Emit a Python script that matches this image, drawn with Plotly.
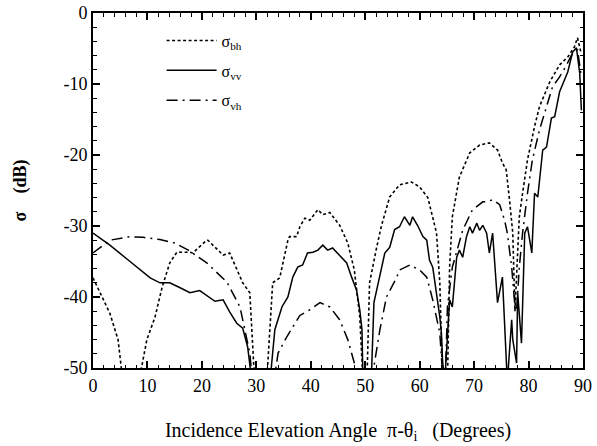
import plotly.graph_objects as go

# Backscatter cross sections (dB) versus incidence elevation angle (degrees)
bh_angle = [0, 1.3, 3.1, 4.6, 5.5, 8.4, 9.9, 11.4, 12.7, 14.1, 15.4, 17.8, 18.3, 20.9, 21.1, 23.9, 25.1,
            27.5, 28.8, 29.7, 31.9, 33.0, 34.3, 35.8, 36.1, 37.4, 38.0, 38.9, 39.8, 41.3, 42.2, 43.5,
            45.3, 46.8, 48.0, 49.0, 49.6, 50.3, 50.8, 52.1, 53.0, 54.5, 56.3, 58.5, 60.0, 61.5, 63.1,
            63.7, 64.2, 65.1, 65.5, 66.0, 67.3, 69.2, 71.0, 72.8, 74.3, 75.2, 75.9, 76.5, 77.1, 77.5,
            78.3, 78.9, 79.8, 81.1, 82.0, 83.9, 85.7, 87.2, 88.4, 89.0, 89.6]
bh_db = [-37.3, -39.4, -42.3, -46.0, -52, -52, -46.0, -42.8, -38.6, -35.2, -33.7, -33.7, -33.8, -32.0,
         -32.0, -34.1, -33.8, -38.0, -39.4, -52, -52, -38.0, -37.3, -32.0, -31.5, -31.5, -30.1, -28.9,
         -29.2, -27.7, -28.4, -28.1, -29.9, -32.4, -36.2, -42.8, -52, -52, -38.0, -33.0, -29.9, -25.9,
         -24.2, -23.8, -24.5, -26.0, -31.0, -38.0, -52, -52, -35.8, -28.7, -23.1, -19.7, -18.6, -18.3,
         -19.3, -21.1, -22.1, -26.3, -31.0, -42.0, -28.7, -25.4, -20.7, -16.0, -13.2, -9.7, -7.3, -6.2,
         -4.8, -3.5, -5.5]

vv_angle = [0, 3.1, 6.8, 10.5, 12.3, 14.1, 16.0, 17.8, 19.6, 21.5, 22.4, 23.9, 25.1, 26.4, 27.5, 28.4,
            29.2, 32.5, 33.4, 34.7, 35.8, 36.7, 37.6, 38.5, 39.4, 40.4, 41.3, 42.2, 43.1, 44.0, 45.3,
            46.6, 47.5, 48.4, 49.0, 49.4, 49.6, 51.1, 51.6, 52.1, 53.0, 53.6, 54.5, 55.4, 56.3, 57.2,
            58.2, 58.7, 59.6, 60.6, 61.3, 61.8, 62.4, 63.1, 63.7, 64.0, 64.2, 64.6, 65.1, 65.5, 66.0,
            66.8, 67.3, 67.9, 68.6, 69.2, 69.7, 70.5, 71.0, 71.6, 72.3, 72.8, 73.4, 74.3, 75.2, 75.9,
            76.1, 76.9, 77.1, 77.8, 78.0, 78.7, 79.3, 79.8, 80.6, 81.1, 81.7, 82.6, 83.3, 84.2, 84.8,
            85.7, 86.6, 87.2, 88.1, 88.8, 89.4, 89.7]
vv_db = [-31.0, -32.7, -35.0, -37.3, -38.0, -38.0, -38.7, -39.4, -39.1, -40.1, -40.6, -40.4, -42.1,
         -43.7, -44.4, -47.0, -52, -52, -44.6, -41.4, -40.0, -37.2, -35.8, -35.5, -33.8, -33.7, -33.4,
         -32.7, -33.4, -33.1, -34.1, -35.2, -37.2, -39.0, -41.8, -44.6, -52, -52, -40.8, -39.0, -35.8,
         -33.8, -33.0, -30.5, -30.1, -28.7, -29.9, -28.7, -29.9, -31.5, -32.0, -34.8, -35.8, -39.4,
         -42.8, -45.1, -48.9, -52, -45.1, -40.4, -41.4, -34.4, -33.4, -34.4, -31.5, -30.1, -31.0, -29.6,
         -30.6, -29.9, -31.0, -33.8, -31.0, -40.8, -37.2, -47.5, -52, -43.2, -46.0, -49.3, -39.4, -46.5,
         -31.0, -30.1, -33.8, -25.4, -25.9, -19.3, -18.9, -14.8, -14.6, -11.1, -9.4, -8.3, -5.5, -4.9,
         -8.5, -13.7]

vh_angle = [0, 3.1, 6.8, 9.2, 12.3, 15.0, 17.5, 20.9, 24.6, 27.0, 28.8, 29.3, 33.2, 34.0,
            35.6, 38.0, 39.8, 41.7, 43.5, 45.3, 46.8, 48.0, 48.6, 51.2, 51.7, 52.7, 53.9, 55.8, 56.3,
            58.2, 60.0, 61.3, 62.4, 63.7, 64.3, 64.7, 65.1, 66.0, 67.9, 69.7, 71.6, 72.3, 73.4, 74.7,
            75.6, 76.1, 76.9, 77.4, 77.8, 78.3, 78.9, 79.8, 80.7, 82.0, 83.3, 84.4, 85.7, 87.0, 88.1,
            89.0, 89.7]
vh_db = [-33.8, -32.0, -31.5, -31.6, -31.9, -32.4, -33.4, -35.2, -37.9, -41.4, -47.9,
         -52, -52, -47.9, -45.6, -42.6, -41.8, -40.8, -41.4, -43.2, -46.0, -49.3, -52, -52, -49.3, -44.6,
         -40.0, -37.2, -36.2, -35.5, -36.2, -37.2, -40.4, -45.1, -52, -52, -41.4, -35.8, -30.6, -27.7,
         -26.6, -26.6, -26.3, -27.0, -29.2, -31.0, -35.8, -40.4, -42.0, -35.8, -31.0, -25.4, -20.7,
         -16.5, -13.2, -10.4, -9.0, -7.3, -5.6, -5.2, -9.0]

x_ticks = [0, 10, 20, 30, 40, 50, 60, 70, 80, 90]
y_ticks = [0, -10, -20, -30, -40, -50]
y_tick_text = ["0", "-10", "-20", "-30", "-40", "-50"]

serif = "Liberation Serif, Times New Roman, serif"

fig = go.Figure()
fig.add_trace(go.Scatter(x=bh_angle, y=bh_db, mode="lines", name="σ<sub>bh</sub>", legendgroup="bh",
                         line=dict(color="black", width=1.6, dash="3px,2.5px")))
fig.add_trace(go.Scatter(x=vv_angle, y=vv_db, mode="lines", name="σ<sub>vv</sub>", legendgroup="vv",
                         line=dict(color="black", width=1.5)))
fig.add_trace(go.Scatter(x=vh_angle, y=vh_db, mode="lines", name="σ<sub>vh</sub>", legendgroup="vh",
                         line=dict(color="black", width=1.5, dash="11px,5px,2px,5px")))

axis_common = dict(
    showgrid=False, zeroline=False, showline=True, linecolor="black", linewidth=2,
    mirror="allticks", ticks="inside", ticklen=7, tickwidth=1.5, tickcolor="black",
    tickfont=dict(family=serif, size=18, color="black"), automargin=False,
    minor=dict(ticks="inside", ticklen=3.5, tickwidth=1.2, tickcolor="black"),
)

fig.update_xaxes(range=[0, 90], tickvals=x_ticks, minor_dtick=2,
                 title=dict(text="Incidence Elevation Angle  π-θ<sub>i</sub>   (Degrees)",
                            font=dict(family=serif, size=20, color="black"), standoff=28),
                 **axis_common)
fig.update_yaxes(range=[-50, 0], tickvals=y_ticks, ticktext=y_tick_text, minor_dtick=2,
                 title=dict(text="<b>σ    (dB)</b>", font=dict(family=serif, size=18, color="black"),
                            standoff=32),
                 **axis_common)

fig.update_layout(
    width=597, height=446,
    margin=dict(l=93, r=14, t=13, b=78),
    plot_bgcolor="white", paper_bgcolor="white",
    showlegend=True,
    legend=dict(x=0.14, y=0.97, xanchor="left", yanchor="top", bgcolor="rgba(0,0,0,0)",
                font=dict(family=serif, size=16, color="black"), tracegroupgap=6,
                itemwidth=50),
)

fig.write_html("out.html")
